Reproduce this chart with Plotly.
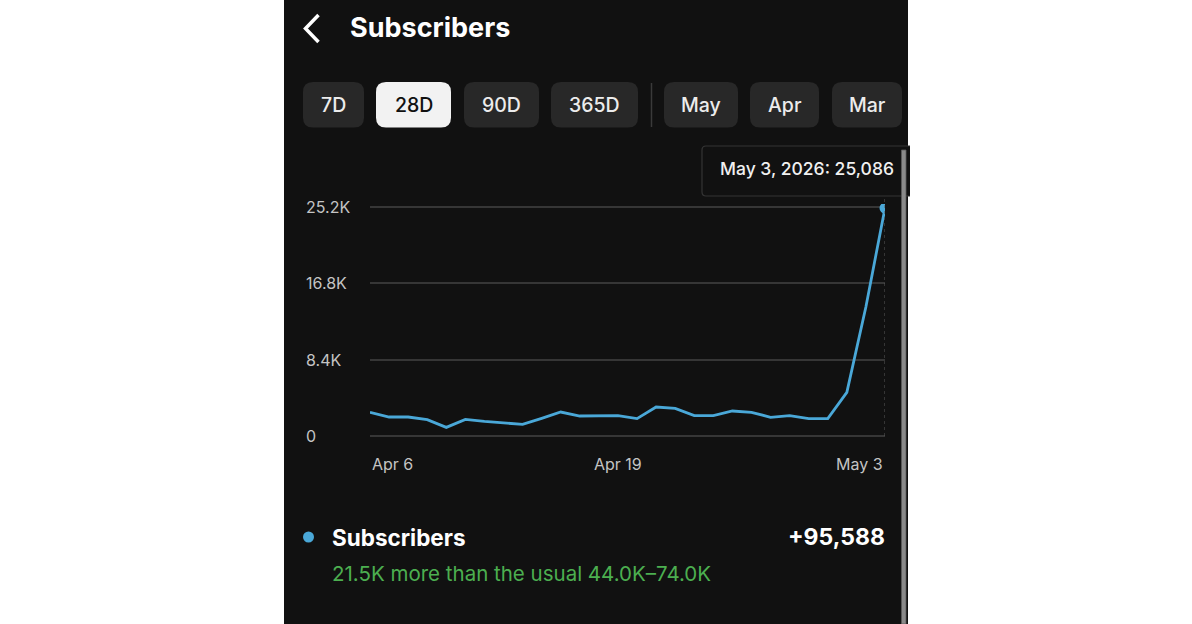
import plotly.graph_objects as go
import pandas as pd

W, H = 1192, 624

# ---------------- data ----------------
dates = pd.date_range("2026-04-06", "2026-05-03", freq="D")
subscribers = [2610, 2090, 2090, 1800, 950, 1830, 1610, 1430, 1280, 1940,
               2640, 2200, 2200, 2240, 1910, 3190, 3040, 2240, 2240, 2750,
               2610, 2060, 2240, 1910, 1910, 4810, 14230, 25086]
y_tick_vals = [0, 8400, 16800, 25200]
y_tick_text = ["0", "8.4K", "16.8K", "25.2K"]
x_tick_dates = ["2026-04-06", "2026-04-19", "2026-05-03"]
x_tick_text = ["Apr 6", "Apr 19", "May 3"]
x_tick_anchor = ["left", "center", "right"]
buttons = ["7D", "28D", "90D", "365D", "May", "Apr", "Mar"]
selected_button = "28D"
total_text = "+95,588"
tooltip_text = "May 3, 2026: 25,086"
note_text = "21.5K more than the usual 44.0K–74.0K"

# ---------------- style ----------------
FONT = "Inter, Roboto, 'Noto Sans', sans-serif"
BG = "#111111"
BTN = "#282828"
GRID = "#363636"
BLUE = "#4aa8d8"
GREEN = "#4caf50"
TICK = "#c4c4c4"


def X(px):
    return px / W


def Y(py):
    return 1 - py / H


def rrect(x0, y0, x1, y1, r):
    return (f"M {X(x0 + r)},{Y(y0)} L {X(x1 - r)},{Y(y0)} "
            f"Q {X(x1)},{Y(y0)} {X(x1)},{Y(y0 + r)} L {X(x1)},{Y(y1 - r)} "
            f"Q {X(x1)},{Y(y1)} {X(x1 - r)},{Y(y1)} L {X(x0 + r)},{Y(y1)} "
            f"Q {X(x0)},{Y(y1)} {X(x0)},{Y(y1 - r)} L {X(x0)},{Y(y0 + r)} "
            f"Q {X(x0)},{Y(y0)} {X(x0 + r)},{Y(y0)} Z")


fig = go.Figure()
fig.add_trace(go.Scatter(x=dates, y=subscribers, mode="lines",
                         line=dict(color=BLUE, width=2.8), hoverinfo="skip"))
fig.add_trace(go.Scatter(x=[dates[-1]], y=[subscribers[-1]], mode="markers",
                         marker=dict(color=BLUE, size=11), hoverinfo="skip",
                         cliponaxis=True))

shapes = []
annotations = []

# phone panel
shapes.append(dict(type="rect", xref="paper", yref="paper", x0=X(284), x1=X(908),
                   y0=Y(624), y1=Y(0), fillcolor=BG, line=dict(width=0), layer="below"))

# back chevron
shapes.append(dict(type="path", xref="paper", yref="paper",
                   path=f"M {X(318.5)},{Y(15)} L {X(305.5)},{Y(28.5)} L {X(318.5)},{Y(42)}",
                   line=dict(color="#ffffff", width=3.5), layer="above"))
annotations.append(dict(xref="paper", yref="paper", x=X(348), y=Y(28), text="<b>Subscribers</b>",
                        showarrow=False, xanchor="left", yanchor="middle",
                        font=dict(family=FONT, size=27, color="#ffffff")))

# period buttons
btn_x = [(303, 364), (376, 451), (464, 539), (551, 638), (664, 738), (750, 819), (832, 902)]
for label, (bx0, bx1) in zip(buttons, btn_x):
    sel = label == selected_button
    shapes.append(dict(type="path", xref="paper", yref="paper", path=rrect(bx0, 82, bx1, 127.5, 10),
                       fillcolor="#f2f2f2" if sel else BTN, line=dict(width=0), layer="below"))
    annotations.append(dict(xref="paper", yref="paper", x=X((bx0 + bx1) / 2), y=Y(105),
                            text=label, showarrow=False, xanchor="center", yanchor="middle",
                            font=dict(family=FONT, size=19.5, weight=500,
                                      color="#111111" if sel else "#ececec")))
# divider
shapes.append(dict(type="line", xref="paper", yref="paper", x0=X(651.5), x1=X(651.5),
                   y0=Y(83), y1=Y(127), line=dict(color="#3a3a3a", width=1.5), layer="below"))

# tooltip
shapes.append(dict(type="line", xref="x", yref="paper", x0=dates[-1], x1=dates[-1],
                   y0=Y(436), y1=Y(196), line=dict(color="#5a5a5a", width=1, dash="dot"),
                   layer="above"))
shapes.append(dict(type="path", xref="paper", yref="paper",
                   path=(f"M {X(910)},{Y(146)} L {X(706)},{Y(146)} Q {X(702)},{Y(146)} {X(702)},{Y(150)} "
                         f"L {X(702)},{Y(192)} Q {X(702)},{Y(196)} {X(706)},{Y(196)} L {X(910)},{Y(196)}"),
                   fillcolor=BG, line=dict(color="#353535", width=1.2), layer="above"))
annotations.append(dict(xref="paper", yref="paper", x=X(718), y=Y(169), text=tooltip_text,
                        showarrow=False, xanchor="left", yanchor="middle",
                        font=dict(family=FONT, size=17.5, weight=500, color="#f0f0f0")))

# scrollbar
shapes.append(dict(type="rect", xref="paper", yref="paper", x0=X(901.5), x1=X(906),
                   y0=Y(624), y1=Y(150), fillcolor="#8a8a8a", line=dict(color="#5c5c5c", width=0.8),
                   layer="above"))

# y tick labels
for v, t in zip(y_tick_vals, y_tick_text):
    annotations.append(dict(xref="paper", yref="y", x=X(304), y=v, text=t, showarrow=False,
                            xanchor="left", yanchor="middle",
                            font=dict(family=FONT, size=16, color=TICK)))
# x tick labels
for d, t, a in zip(x_tick_dates, x_tick_text, x_tick_anchor):
    annotations.append(dict(xref="x", yref="paper", x=d, y=Y(464), text=t, showarrow=False,
                            xanchor=a, yanchor="middle",
                            font=dict(family=FONT, size=16, color=TICK)))

# legend / summary
shapes.append(dict(type="circle", xref="paper", yref="paper", x0=X(303), x1=X(314),
                   y0=Y(542.5), y1=Y(531.5), fillcolor=BLUE, line=dict(width=0), layer="above"))
annotations.append(dict(xref="paper", yref="paper", x=X(330), y=Y(537), text="<b>Subscribers</b>",
                        showarrow=False, xanchor="left", yanchor="middle",
                        font=dict(family=FONT, size=22.5, color="#ffffff")))
annotations.append(dict(xref="paper", yref="paper", x=X(887), y=Y(537), text=f"<b>{total_text}</b>",
                        showarrow=False, xanchor="right", yanchor="middle",
                        font=dict(family=FONT, size=23, color="#ffffff")))
annotations.append(dict(xref="paper", yref="paper", x=X(330), y=Y(573), text=note_text,
                        showarrow=False, xanchor="left", yanchor="middle",
                        font=dict(family=FONT, size=20.5, color=GREEN)))

# axis geometry: 0 -> px 436, 25200 -> px 207
ppu = (436 - 207) / 25200
pad = 330
fig.update_layout(
    width=W, height=H, autosize=False,
    margin=dict(l=0, r=0, t=0, b=0, pad=0),
    paper_bgcolor="#ffffff", plot_bgcolor=BG,
    showlegend=False, hovermode=False,
    shapes=shapes, annotations=annotations,
    xaxis=dict(domain=[X(370), X(885)], range=[dates[0], dates[-1]], showgrid=False,
               zeroline=False, showline=False, showticklabels=False, ticks="", fixedrange=True),
    yaxis=dict(domain=[Y(436 + pad * ppu), Y(207 - pad * ppu)], range=[-pad, 25200 + pad],
               tickvals=y_tick_vals, showticklabels=False, showgrid=True, gridcolor=GRID,
               gridwidth=1.5, zeroline=False, showline=False, ticks="", fixedrange=True),
)

fig.write_html("out.html", config={"displayModeBar": False})
